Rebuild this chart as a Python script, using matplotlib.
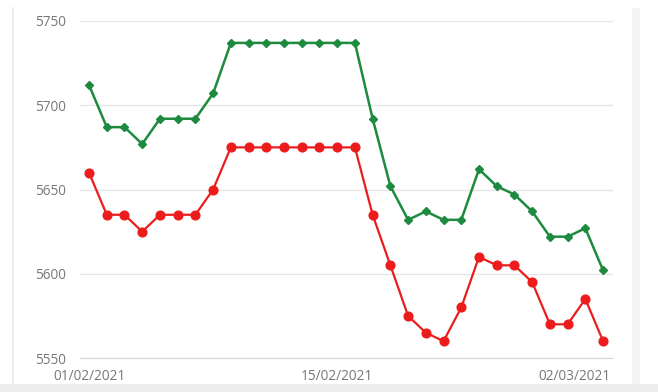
import numpy as np, matplotlib.pyplot as plt, pandas as pd
import matplotlib as mpl
import matplotlib.dates as mdates
from matplotlib.transforms import ScaledTranslation

plt.rcParams['font.family'] = ['Open Sans', 'DejaVu Sans']

dates = pd.date_range('2021-02-01', '2021-03-02', freq='D')
green_vals = [5712, 5687, 5687, 5677, 5692, 5692, 5692, 5707, 5737, 5737,
              5737, 5737, 5737, 5737, 5737, 5737, 5692, 5652, 5632, 5637,
              5632, 5632, 5662, 5652, 5647, 5637, 5622, 5622, 5627, 5602]
red_vals = [5660, 5635, 5635, 5625, 5635, 5635, 5635, 5650, 5675, 5675,
            5675, 5675, 5675, 5675, 5675, 5675, 5635, 5605, 5575, 5565,
            5560, 5580, 5610, 5605, 5605, 5595, 5570, 5570, 5585, 5560]
yticks = [5550, 5600, 5650, 5700, 5750]
xtick_dates = ['2021-02-01', '2021-02-15', '2021-03-02']

green = '#1d8a3f'
red = '#ec1c1c'
tickcolor = '#777777'

fig = plt.figure(figsize=(6.58, 3.92), dpi=100)
ax = fig.add_axes([80/658, 1-358/392, 533/658, 337/392])

# frame decorations of the screenshot
fig.add_artist(plt.Line2D([13/658, 13/658], [1-385/392, 1-8/392],
                          color='#e6e6e6', lw=1.2, transform=fig.transFigure))
fig.add_artist(plt.Rectangle((632/658, 1-385/392), 8/658, 377/392,
                             color='#f4f4f4', lw=0, transform=fig.transFigure))
fig.add_artist(plt.Rectangle((0, 0), 1, 8/392, color='#ededed', lw=0,
                             transform=fig.transFigure))

ax.plot(dates, green_vals, color=green, lw=1.8, marker='D', ms=4.5,
        zorder=3)
ax.plot(dates, red_vals, color=red, lw=1.6, marker='o', ms=6.3, zorder=3)

day = pd.Timedelta(days=1)
ax.set_xlim(dates[0] - 0.51*day, dates[-1] + 0.56*day)
ax.set_ylim(5550, 5750)
ax.set_yticks(yticks)
ax.grid(axis='y', color='#e6e6e6', lw=1)
ax.set_axisbelow(True)
for s in ['top', 'right', 'left']:
    ax.spines[s].set_visible(False)
ax.spines['bottom'].set_color('#d8d8d8')

ax.set_xticks(pd.to_datetime(xtick_dates))
ax.xaxis.set_major_formatter(mdates.DateFormatter('%d/%m/%Y'))
ax.tick_params(axis='both', length=0, colors=tickcolor, labelsize=9.8)
ax.tick_params(axis='y', pad=10)
ax.tick_params(axis='x', pad=8)
for lab in ax.get_yticklabels():
    lab.set_fontweight('medium')
labs = ax.get_xticklabels()
for lab in labs:
    lab.set_fontweight('medium')
labs[-1].set_horizontalalignment('right')
labs[-1].set_transform(labs[-1].get_transform() +
                       ScaledTranslation(7/100, 0, fig.dpi_scale_trans))

fig.savefig('out.png', dpi=100, facecolor='white')
